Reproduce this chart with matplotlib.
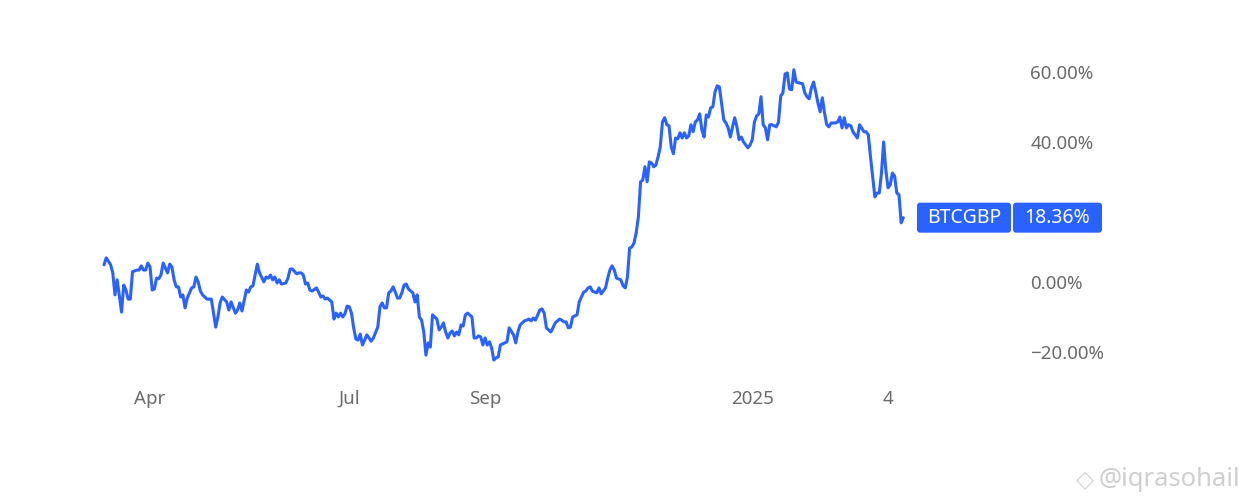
import pandas as pd
import matplotlib
matplotlib.use('Agg')
import matplotlib.pyplot as plt
import matplotlib.dates as mdates
from matplotlib.patches import FancyBboxPatch

# ---- data (daily % change of BTCGBP) ----
start = '2024-03-11'
days = [0, 1, 3, 4, 5, 6, 8, 9, 10, 11,
        12, 13, 15, 16, 17, 18, 19, 20, 21, 22,
        23, 24, 25, 26, 27, 29, 30, 31, 32, 33,
        34, 35, 36, 37, 38, 40, 41, 42, 43, 44,
        45, 47, 49, 51, 52, 53, 54, 56, 57, 58,
        60, 61, 62, 63, 65, 66, 67, 68, 70, 71,
        73, 74, 75, 76, 77, 78, 79, 80, 81, 83,
        84, 85, 86, 88, 89, 90, 91, 92, 93, 94,
        95, 97, 98, 99, 100, 101, 102, 104, 105, 106,
        107, 108, 109, 110, 111, 112, 113, 114, 115, 116,
        117, 118, 119, 120, 121, 122, 123, 125, 126, 127,
        128, 129, 130, 131, 132, 133, 134, 135, 136, 137,
        138, 139, 141, 142, 143, 144, 145, 146, 147, 148,
        149, 150, 151, 152, 153, 154, 155, 156, 157, 158,
        159, 160, 161, 162, 163, 164, 165, 166, 168, 169,
        170, 171, 172, 173, 174, 175, 176, 177, 178, 179,
        180, 181, 183, 184, 185, 187, 188, 189, 190, 192,
        193, 194, 195, 196, 197, 199, 200, 201, 202, 204,
        205, 206, 208, 209, 210, 211, 212, 213, 214, 215,
        216, 217, 219, 220, 221, 222, 223, 224, 225, 226,
        227, 229, 230, 231, 232, 233, 234, 236, 237, 238,
        239, 240, 241, 242, 243, 244, 245, 246, 247, 248,
        249, 250, 251, 252, 253, 254, 255, 256, 257, 258,
        259, 260, 261, 262, 263, 264, 265, 266, 267, 268,
        269, 270, 271, 272, 273, 274, 275, 276, 277, 278,
        279, 280, 281, 282, 283, 284, 285, 286, 287, 288,
        289, 290, 291, 292, 294, 295, 296, 297, 298, 299,
        300, 301, 302, 303, 304, 305, 307, 308, 309, 310,
        311, 312, 313, 314, 315, 316, 317, 319, 320, 321,
        322, 323, 324, 325, 326, 327, 328, 329, 330, 331,
        332, 334, 335, 336, 337, 338, 339, 340, 341, 342,
        343, 344, 345, 347, 348, 349, 350, 351, 352, 353,
        354, 355, 356, 357, 358, 359, 360, 361, 362, 363,
        364, 365]
pct = [4.9, 6.9, 4.9, 2.6, -3.7, 0.6, -8.6, -0.9, -2.3, -4.9,
       -4.9, 2.9, 3.4, 3.4, 4.6, 3.4, 3.4, 5.4, 4.3, -2.3,
       -2.0, 1.1, 0.9, 2.0, 5.4, 2.6, 5.1, 4.3, 0.6, -1.4,
       -1.4, -4.3, -3.7, -7.4, -4.6, -1.7, -1.4, 1.4, 0.0, -2.6,
       -3.7, -4.9, -4.9, -12.9, -10.0, -6.0, -4.3, -5.7, -8.0, -5.7,
       -8.9, -8.0, -6.0, -8.3, -2.3, -2.9, -1.4, -1.1, 5.1, 2.6,
       0.0, 1.4, 1.1, 2.0, 0.6, 1.4, -0.3, 0.6, -0.6, -0.3,
       1.1, 3.7, 3.7, 2.3, 2.6, 2.6, 2.0, -0.6, -0.3, -2.3,
       -2.6, -1.7, -2.9, -4.3, -4.0, -4.9, -4.6, -5.7, -10.6, -8.9,
       -10.0, -8.9, -10.0, -9.1, -6.9, -7.1, -8.9, -13.1, -16.3, -16.6,
       -14.9, -18.0, -16.6, -15.1, -16.0, -16.9, -16.0, -12.9, -7.1, -6.0,
       -7.4, -7.4, -3.1, -2.6, -1.4, -2.9, -4.6, -4.6, -3.1, -0.9,
       -0.6, -2.0, -3.1, -5.7, -3.7, -10.0, -10.9, -14.3, -20.9, -17.4,
       -18.6, -9.4, -10.0, -10.6, -13.7, -12.9, -11.7, -14.3, -16.0, -14.6,
       -14.0, -15.4, -14.3, -15.1, -12.3, -12.6, -9.4, -8.9, -10.0, -16.0,
       -16.0, -15.4, -15.7, -18.0, -16.0, -18.0, -17.1, -18.9, -22.3, -21.7,
       -21.4, -18.0, -17.4, -17.1, -13.1, -15.1, -17.4, -14.3, -12.3, -11.1,
       -10.9, -10.6, -11.1, -10.3, -10.9, -8.0, -7.7, -8.9, -13.1, -14.3,
       -13.1, -11.7, -10.6, -10.9, -11.4, -11.4, -13.1, -12.9, -10.0, -9.7,
       -9.4, -5.7, -2.9, -2.6, -1.7, -1.4, -2.6, -2.9, -3.1, -1.7,
       -3.4, -1.7, 1.1, 3.4, 4.6, 3.4, 1.1, 0.6, -1.1, -1.7,
       1.4, 9.7, 10.0, 11.1, 14.0, 18.6, 28.6, 29.1, 32.9, 28.6,
       34.3, 34.0, 32.9, 33.4, 35.7, 38.6, 45.7, 46.9, 44.9, 44.6,
       38.6, 36.6, 41.1, 40.9, 42.6, 41.1, 42.6, 41.1, 41.7, 44.9,
       42.9, 45.7, 46.3, 48.0, 43.4, 41.4, 47.7, 47.1, 49.7, 50.0,
       54.3, 56.0, 55.7, 51.1, 46.3, 45.4, 44.0, 41.4, 44.3, 46.9,
       44.3, 40.6, 41.4, 40.0, 38.3, 39.1, 40.6, 45.7, 47.4, 48.0,
       52.9, 44.9, 44.0, 40.6, 44.9, 44.9, 44.3, 45.7, 53.1, 54.0,
       59.4, 59.7, 55.1, 54.9, 60.6, 57.1, 56.9, 56.6, 54.0, 52.9,
       52.3, 55.4, 57.1, 54.3, 51.1, 48.6, 52.6, 48.3, 44.9, 44.3,
       45.4, 45.4, 45.7, 47.1, 44.0, 46.9, 44.0, 44.9, 44.6, 42.9,
       42.0, 41.1, 44.9, 42.9, 42.9, 42.0, 35.7, 30.0, 24.3, 25.4,
       25.4, 31.1, 40.0, 32.0, 26.9, 27.7, 31.1, 30.3, 25.4, 24.9,
       16.9, 18.36]
assert len(days) == len(pct)

tick_dates = ['2024-04-01', '2024-07-01', '2024-09-01', '2025-01-01', '2025-03-04']
tick_labels = ['Apr', 'Jul', 'Sep', '2025', '4']
y_ticks = [-20, 0, 40, 60]
symbol = 'BTCGBP'
watermark = '@iqrasohail'

blue = '#2962ff'
grey = '#6b6b6b'
plt.rcParams['font.family'] = ['Noto Sans', 'DejaVu Sans']

dates = pd.Timestamp(start) + pd.to_timedelta(days, unit='D')

W, H = 1246, 499
fig = plt.figure(figsize=(W / 100, H / 100), dpi=100)
fig.patch.set_facecolor('white')

ax = fig.add_axes([0, (H - 380) / H, 1010 / W, 340 / H])
ax.plot(dates, pct, color=blue, lw=2.2, solid_joinstyle='round', solid_capstyle='round')

x0 = mdates.date2num(pd.Timestamp(start))
ax.set_xlim(x0 - 47.5, x0 + 413.7)
ax.set_ylim(-28, 69.1)

ax.set_xticks(pd.to_datetime(tick_dates))
ax.set_xticklabels(tick_labels)
ax.yaxis.tick_right()
ax.set_yticks(y_ticks)
ax.set_yticklabels([f'{v:.2f}%'.replace('-', '\u2212') for v in y_ticks])
ax.tick_params(axis='x', length=0, pad=7, labelsize=13.5, labelcolor=grey)
ax.tick_params(axis='y', length=0, pad=14.5, labelsize=13.5, labelcolor=grey)
for lab in ax.get_yticklabels():
    lab.set_horizontalalignment('left')
ax.spines[['top', 'right', 'left', 'bottom']].set_visible(False)
ax.grid(False)

# overlay in pixel coordinates for the price badge and watermark
ov = fig.add_axes([0, 0, 1, 1])
ov.set_xlim(0, W)
ov.set_ylim(H, 0)
ov.axis('off')
ov.patch.set_alpha(0)

fig.canvas.draw()
y_last = H - ax.transData.transform((x0, pct[-1]))[1]

bh = 30
ov.add_patch(FancyBboxPatch((917, y_last - bh / 2), 94, bh,
                            boxstyle='round,pad=0,rounding_size=3',
                            fc=blue, ec='none'))
ov.add_patch(FancyBboxPatch((1013, y_last - bh / 2), 89, bh,
                            boxstyle='round,pad=0,rounding_size=3',
                            fc=blue, ec='none'))
ov.text(964, y_last + 0.5, symbol, color='white', fontsize=14, fontweight='semibold',
        ha='center', va='center')
ov.text(1057.5, y_last + 0.5, f'{pct[-1]:.2f}%', color='white', fontsize=14,
        fontweight='semibold', ha='center', va='center')

ov.text(1085, 480, '\u25c7', color='#d4d4d4', fontsize=17, ha='center', va='center',
        family='DejaVu Sans')
ov.text(1099, 479, watermark, color='#cfcfcf', fontsize=18.5, ha='left', va='center')

fig.savefig('out.png', dpi=100, facecolor='white')
